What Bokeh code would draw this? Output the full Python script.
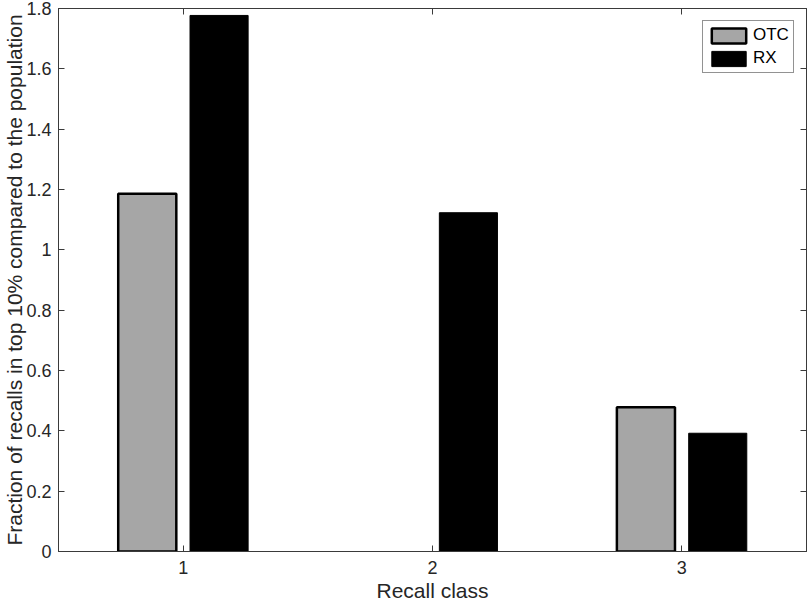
from bokeh.plotting import figure
from bokeh.models import ColumnDataSource, Legend, LegendItem, LinearAxis, FixedTicker, Range1d, CDSView, BooleanFilter
from bokeh.embed import file_html
from bokeh.resources import INLINE

classes = [1, 2, 3]
otc = [1.186, 0.0, 0.478]
rx = [1.777, 1.123, 0.392]
y_ticks = [0, 0.2, 0.4, 0.6, 0.8, 1.0, 1.2, 1.4, 1.6, 1.8]
y_tick_labels = {0: "0", 0.2: "0.2", 0.4: "0.4", 0.6: "0.6", 0.8: "0.8", 1.0: "1",
                 1.2: "1.2", 1.4: "1.4", 1.6: "1.6", 1.8: "1.8"}

FONT = "Liberation Sans"
AX = "#3a3a3a"

p = figure(width=808, height=604, output_backend="svg", toolbar_location=None,
           x_range=Range1d(0.5, 3.5), y_range=Range1d(0, 1.8),
           min_border_left=0, min_border_right=2, min_border_top=8, min_border_bottom=0)
p.grid.visible = False
p.outline_line_color = AX
p.outline_line_width = 1
p.background_fill_color = "white"
p.border_fill_color = "white"

off = 0.144
w = 0.233
src_otc = ColumnDataSource(dict(x=[c - off for c in classes], top=otc))
src_rx = ColumnDataSource(dict(x=[c + off for c in classes], top=rx))
view_otc = CDSView(filter=BooleanFilter([v > 0 for v in otc]))

r_otc = p.vbar(x="x", top="top", width=w, source=src_otc, view=view_otc,
               fill_color="#a6a6a6", line_color="black", line_width=2.5)
r_rx = p.vbar(x="x", top="top", width=w, source=src_rx,
              fill_color="black", line_color="black", line_width=1)

for ax in (p.xaxis[0], p.yaxis[0]):
    ax.axis_line_color = AX
    ax.major_tick_line_color = AX
    ax.major_tick_in = 6
    ax.major_tick_out = 0
    ax.minor_tick_line_color = None
    ax.major_label_text_font = FONT
    ax.major_label_text_font_size = "18px"
    ax.major_label_text_color = "#262626"
    ax.axis_label_text_font = FONT
    ax.axis_label_text_font_size = "21px"
    ax.axis_label_text_font_style = "normal"
    ax.axis_label_text_color = "#262626"

p.xaxis[0].ticker = FixedTicker(ticks=classes)
p.xaxis[0].axis_label = "Recall class"
p.xaxis[0].major_label_standoff = 9
p.xaxis[0].axis_label_standoff = 2
p.yaxis[0].ticker = FixedTicker(ticks=y_ticks)
p.yaxis[0].major_label_overrides = y_tick_labels
p.yaxis[0].axis_label = "Fraction of recalls in top 10% compared to the population"
p.yaxis[0].major_label_standoff = 7
p.yaxis[0].axis_label_standoff = -3

# box ticks on top and right
top_ax = LinearAxis(ticker=FixedTicker(ticks=classes), major_label_text_font_size="0px",
                    axis_line_color=AX, major_tick_line_color=AX, major_tick_in=6, major_tick_out=0,
                    minor_tick_line_color=None, major_label_standoff=0)
right_ax = LinearAxis(ticker=FixedTicker(ticks=y_ticks), major_label_text_font_size="0px",
                      axis_line_color=AX, major_tick_line_color=AX, major_tick_in=6, major_tick_out=0,
                      minor_tick_line_color=None, major_label_standoff=0)
top_ax.major_label_overrides = {c: "" for c in classes}
right_ax.major_label_overrides = {t: "" for t in y_ticks}
p.add_layout(top_ax, "above")
p.add_layout(right_ax, "right")

legend = Legend(items=[LegendItem(label="OTC", renderers=[r_otc]),
                       LegendItem(label="RX", renderers=[r_rx])],
                location=(644, 478))
legend.label_text_font = FONT
legend.label_text_font_size = "17px"
legend.label_text_color = "black"
legend.glyph_width = 43
legend.glyph_height = 19
legend.label_standoff = 3
legend.spacing = 3
legend.padding = 4
legend.margin = 0
legend.border_line_color = "#262626"
legend.border_line_width = 1
legend.background_fill_color = "white"
legend.label_height = 19
p.add_layout(legend, "center")

open("out.html", "w").write(file_html(p, INLINE))
